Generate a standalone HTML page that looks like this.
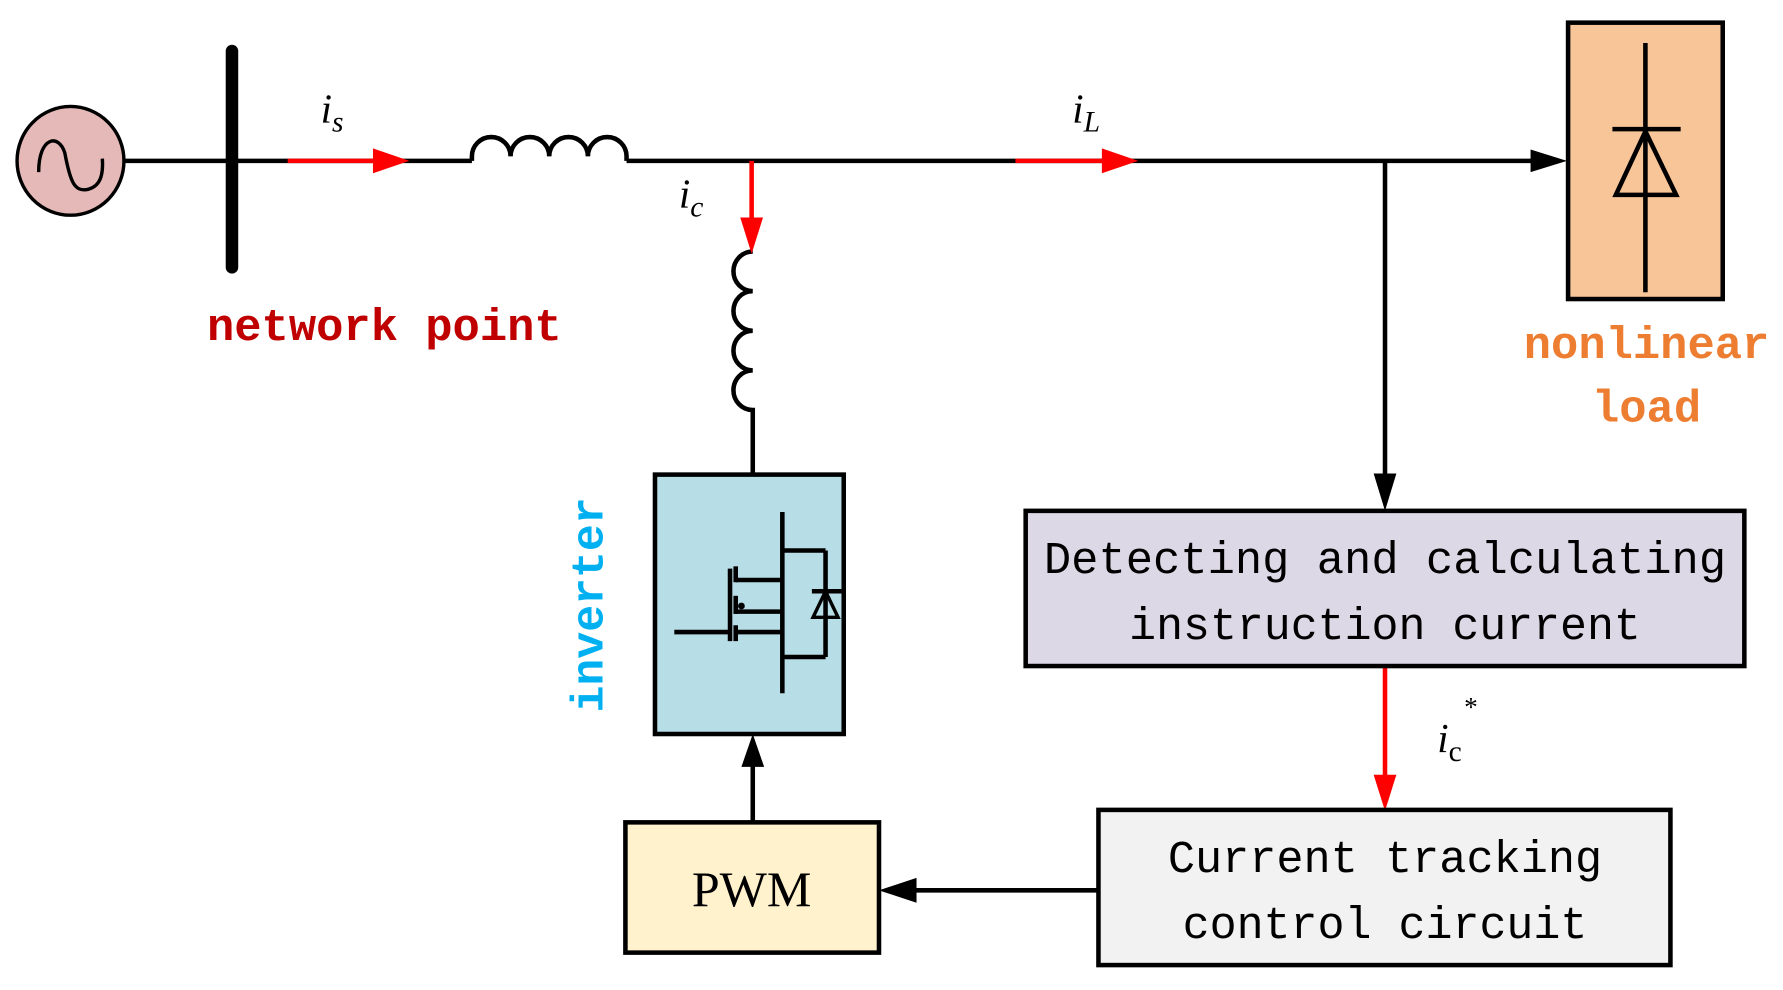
<!DOCTYPE html>
<html><head><meta charset="utf-8"><style>
html,body{margin:0;padding:0;background:#fff}
svg{display:block}
</style></head><body>
<svg width="1783" height="990" viewBox="0 0 1568 874" preserveAspectRatio="none" xmlns="http://www.w3.org/2000/svg">
<defs>
<marker id="ab" markerWidth="10" markerHeight="8" refX="9" refY="4" orient="auto" markerUnits="userSpaceOnUse" viewBox="0 0 10 8"><path d="M0,0 L10,4 L0,8 Z" fill="#000"/></marker>
</defs>
<g stroke="#000" stroke-width="4" fill="none">
<!-- main line -->
<line x1="110" y1="142" x2="415" y2="142"/>
<line x1="551" y1="142" x2="1360" y2="142"/>
<path d="M415,142 v-4 a17,17 0 0 1 34,0 a17,17 0 0 1 34,0 a17,17 0 0 1 34,0 a17,17 0 0 1 34,0 v4"/>
<!-- vertical inductor -->
<path d="M662,222 a17,17.5 0 0 0 0,35 a17,17.5 0 0 0 0,35 a17,17.5 0 0 0 0,35 a17,17.5 0 0 0 0,35 V419"/>
<line x1="1218" y1="142" x2="1218" y2="425"/>
<line x1="662" y1="726" x2="662" y2="672"/>
<line x1="966" y1="786" x2="800" y2="786"/>
</g>
<!-- arrowheads black -->
<polygon points="1378,142 1346,132 1346,152" fill="#000"/>
<polygon points="1218,451 1208,418 1228,418" fill="#000"/>
<polygon points="662,648 652,677 672,677" fill="#000"/>
<polygon points="773,786 806,775 806,797" fill="#000"/>
<!-- red arrows -->
<g stroke="#f00" stroke-width="4">
<line x1="253" y1="142" x2="335" y2="142"/>
<line x1="893" y1="142" x2="975" y2="142"/>
<line x1="661" y1="142" x2="661" y2="200"/>
<line x1="1218" y1="588" x2="1218" y2="690"/>
</g>
<polygon points="360,142 328,131 328,153" fill="#f00"/>
<polygon points="1001,142 969,131 969,153" fill="#f00"/>
<polygon points="661,224 651,192 671,192" fill="#f00"/>
<polygon points="1218,716 1208,684 1228,684" fill="#f00"/>
<!-- source -->
<ellipse cx="62" cy="142" rx="47" ry="48" fill="#e4b9b8" stroke="#000" stroke-width="3"/>
<path d="M34,152 C34,120 52,118 57,135 C62,162 66,170 78,167 C88,164 91,155 90,140" stroke="#000" stroke-width="3" fill="none"/>
<!-- bus bar -->
<line x1="204" y1="45" x2="204" y2="236" stroke="#000" stroke-width="11" stroke-linecap="round"/>
<!-- load -->
<rect x="1379" y="20" width="136" height="244" fill="#f8c598" stroke="#000" stroke-width="4"/>
<g stroke="#000" stroke-width="4" fill="none">
<line x1="1447" y1="38" x2="1447" y2="258"/>
<line x1="1418" y1="114" x2="1478" y2="114"/>
<polygon points="1447,116 1421,172 1474,172"/>
</g>
<!-- inverter -->
<rect x="576" y="419" width="166" height="229" fill="#b7dde6" stroke="#000" stroke-width="4"/>
<g stroke="#000" stroke-width="4" fill="none">
<line x1="593" y1="558" x2="642" y2="558"/>
<line x1="642" y1="502" x2="642" y2="566"/>
<line x1="647" y1="500" x2="647" y2="514"/>
<line x1="647" y1="526" x2="647" y2="542"/>
<line x1="647" y1="552" x2="647" y2="566"/>
<line x1="647" y1="512" x2="688" y2="512"/>
<line x1="647" y1="540" x2="688" y2="540"/>
<line x1="647" y1="558" x2="688" y2="558"/>
<line x1="688" y1="452" x2="688" y2="612"/>
<line x1="688" y1="486" x2="726" y2="486"/>
<line x1="688" y1="580" x2="726" y2="580"/>
<line x1="726" y1="486" x2="726" y2="580"/>
<line x1="714" y1="522" x2="740" y2="522"/>
<polygon points="726,522 715,545 737,545" stroke-width="3"/>
</g>
<circle cx="652" cy="535" r="3" fill="#000"/>
<!-- boxes -->
<rect x="902" y="451" width="632" height="137" fill="#ddd8e6" stroke="#000" stroke-width="4"/>
<rect x="966" y="715" width="503" height="137" fill="#f2f2f2" stroke="#000" stroke-width="4"/>
<rect x="550" y="726" width="223" height="115" fill="#fff2cc" stroke="#000" stroke-width="4"/>
<!-- texts -->
<g font-family="'Liberation Mono', monospace" font-size="40" text-anchor="middle" fill="#000">
<text x="1218" y="506" textLength="600" lengthAdjust="spacingAndGlyphs">Detecting and calculating</text>
<text x="1218" y="564" textLength="450" lengthAdjust="spacingAndGlyphs">instruction current</text>
<text x="1218" y="770" textLength="382" lengthAdjust="spacingAndGlyphs">Current tracking</text>
<text x="1218" y="828" textLength="356" lengthAdjust="spacingAndGlyphs">control circuit</text>
</g>
<text x="661" y="800" font-family="'Liberation Serif', serif" font-size="44" text-anchor="middle">PWM</text>
<g font-family="'Liberation Mono', monospace" font-weight="bold" font-size="40" text-anchor="middle">
<text x="338" y="300" fill="#c00000" textLength="312" lengthAdjust="spacingAndGlyphs">network point</text>
<text x="1448" y="316" fill="#ed7d31">nonlinear</text>
<text x="1448" y="372" fill="#ed7d31">load</text>
<text transform="translate(530,534) rotate(-90)" fill="#00b0f0" textLength="190" lengthAdjust="spacingAndGlyphs">inverter</text>
</g>
<g font-family="'Liberation Serif', serif" font-style="italic" font-size="36" fill="#000">
<text x="282" y="108">i<tspan font-size="26" dy="8">s</tspan></text>
<text x="943" y="108">i<tspan font-size="26" dy="8">L</tspan></text>
<text x="597" y="183">i<tspan font-size="26" dy="8">c</tspan></text>
<text x="1264" y="664">i<tspan font-size="26" dy="8" font-style="normal">c</tspan><tspan font-size="24" dx="2" dy="-40" font-style="normal">*</tspan></text>
</g>
</svg>
</body></html>
